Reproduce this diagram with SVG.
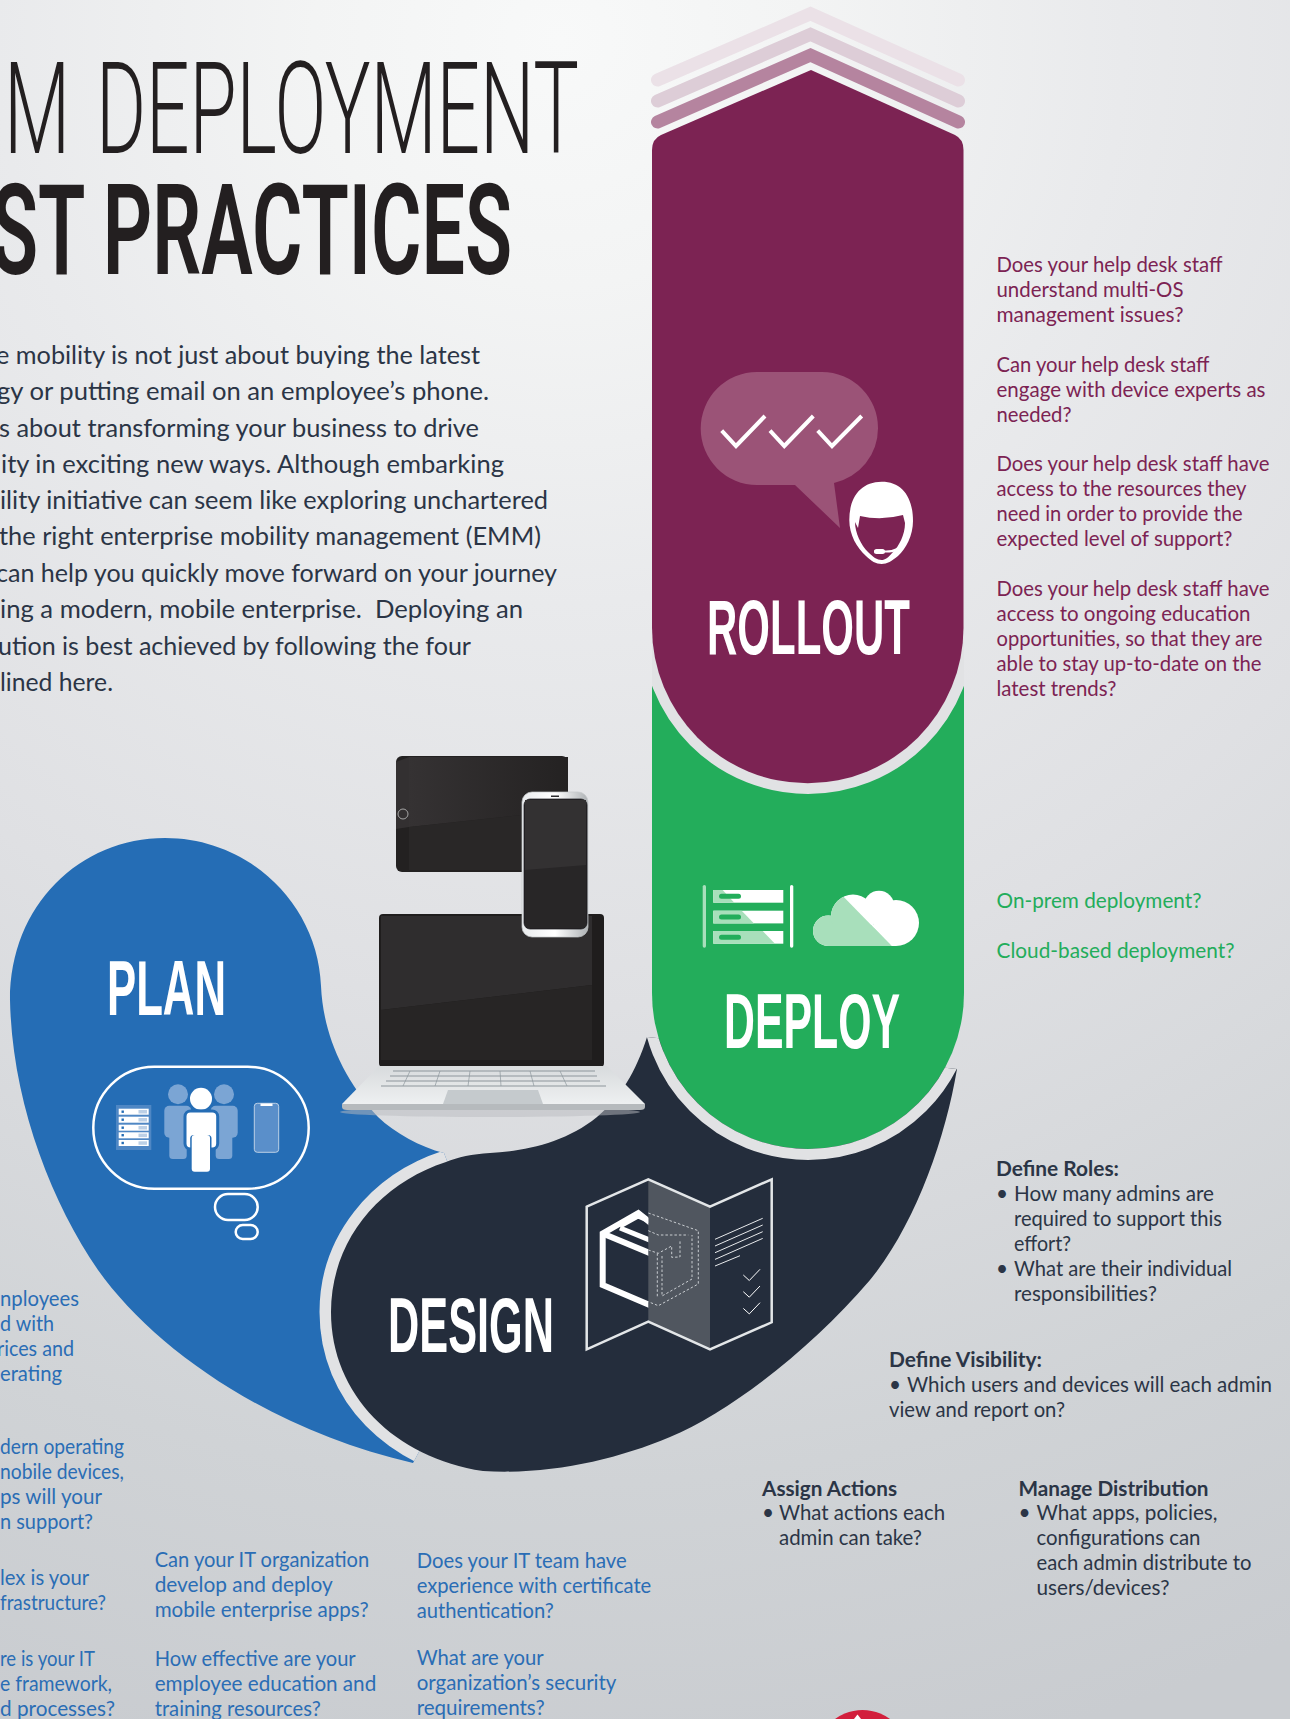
<svg xmlns="http://www.w3.org/2000/svg" width="1290" height="1719" viewBox="0 0 1290 1719">
<style>
text{font-family:Lato,"Noto Sans",sans-serif;font-size:20.8px}
.h{font-family:"Liberation Sans",Arial,sans-serif;font-weight:700;fill:#fff;font-size:78px}
.body{fill:#2b3546;font-size:25px}
.m{fill:#7c2353}.g{fill:#23ad5b}.b{fill:#2a6db5}.d{fill:#2b3546}.bo{font-weight:700}
.halo{fill:none;stroke:#e1e2e4}
.w{fill:none;stroke:#fff}
.thin{fill:none;stroke:#e8eaec;stroke-width:1}
.dash{fill:none;stroke:#c9cdd1;stroke-width:1;stroke-dasharray:2.5 2}
.chev{fill:none;stroke-width:13;stroke-linecap:round;stroke-linejoin:miter}
.key{fill:none;stroke:#8d969c;stroke-width:1.2}
</style>
<defs>
<radialGradient id="bg" gradientUnits="userSpaceOnUse" cx="560" cy="40" r="1760">
<stop offset="0" stop-color="#f8f9f9"/><stop offset=".14" stop-color="#f3f4f4"/><stop offset=".32" stop-color="#e9eaec"/><stop offset=".55" stop-color="#dfe0e3"/><stop offset=".82" stop-color="#d0d3d6"/><stop offset="1" stop-color="#c9ccd0"/>
</radialGradient>
<linearGradient id="silver" x1="0" x2="1" y1="0" y2="0"><stop offset="0" stop-color="#e9ebed"/><stop offset=".5" stop-color="#ffffff"/><stop offset="1" stop-color="#aeb2b5"/></linearGradient>
<linearGradient id="deck" x1="0" x2="0" y1="0" y2="1"><stop offset="0" stop-color="#d8dbdd"/><stop offset="1" stop-color="#eef0f1"/></linearGradient>
<linearGradient id="tabTop" x1="0" x2="1" y1="0" y2="0"><stop offset="0" stop-color="#353233"/><stop offset="1" stop-color="#242222"/></linearGradient>
<path id="navyShape" d="M647,1037 C636,1072 620,1098 597,1117 C565,1143 525,1151 490,1153 C472,1154 458,1157 446,1162 C378,1184 331,1242 331,1312 C331,1395 395,1458 483,1471 C550,1475 615,1460 670,1437 C730,1412 810,1350 870,1280 C915,1225 945,1140 957,1069 Z"/>
<path id="blueShape" d="M321,986 C323,1030 340,1075 378,1117 C395,1133 420,1147 444,1153 L500,1300 L413,1463 C270,1430 155,1350 98,1270 C50,1200 12,1100 10,1000 C10,905 80,838 165,838 C250,838 318,905 321,986 Z"/>
<clipPath id="inBlue"><use href="#blueShape"/></clipPath>
<clipPath id="inNavy"><use href="#navyShape"/></clipPath>
<clipPath id="inColumn"><rect x="652" y="500" width="312" height="700"/></clipPath>
<clipPath id="leftOfPanel"><rect x="590" y="1170" width="58.3" height="190"/></clipPath>
<clipPath id="paleCloud"><polygon points="800,880 834,887 891.7,946 891.7,960 800,960"/></clipPath>
<g id="cloud"><circle cx="828.3" cy="930.7" r="15.3"/><circle cx="853" cy="916.5" r="22"/><circle cx="879" cy="906" r="15.2"/><circle cx="896" cy="923" r="23"/><rect x="828" y="925" width="68" height="21"/></g>
</defs>
<rect id="background" width="1290" height="1719" fill="url(#bg)"/>

<g id="title">
<text x="4" y="153" style="font-family:Roboto,'Liberation Sans',sans-serif;font-weight:300;font-size:128px;word-spacing:12px" fill="#231f20" textLength="575" lengthAdjust="spacingAndGlyphs">M DEPLOYMENT</text>
<text x="-9" y="274" style="font-family:Roboto,'Liberation Sans',sans-serif;font-weight:600;font-size:127px" fill="#231f20" textLength="521" lengthAdjust="spacingAndGlyphs">ST PRACTICES</text>
</g>

<g id="intro">
<text class="body" x="-4" y="364" textLength="484" lengthAdjust="spacingAndGlyphs">e mobility is not just about buying the latest</text>
<text class="body" x="-3" y="400" textLength="492" lengthAdjust="spacingAndGlyphs">gy or putting email on an employee’s phone.</text>
<text class="body" x="-1" y="437" textLength="480" lengthAdjust="spacingAndGlyphs">s about transforming your business to drive</text>
<text class="body" x="1" y="473" textLength="503" lengthAdjust="spacingAndGlyphs">ity in exciting new ways. Although embarking</text>
<text class="body" x="0" y="509" textLength="548" lengthAdjust="spacingAndGlyphs">ility initiative can seem like exploring unchartered</text>
<text class="body" x="-1" y="545" textLength="542" lengthAdjust="spacingAndGlyphs">the right enterprise mobility management (EMM)</text>
<text class="body" x="-4" y="582" textLength="561" lengthAdjust="spacingAndGlyphs">can help you quickly move forward on your journey</text>
<text class="body" x="0" y="618" textLength="523" lengthAdjust="spacingAndGlyphs">ing a modern, mobile enterprise.&#160; Deploying an</text>
<text class="body" x="-2" y="655" textLength="473" lengthAdjust="spacingAndGlyphs">ution is best achieved by following the four</text>
<text class="body" x="0" y="691" textLength="113" lengthAdjust="spacingAndGlyphs">lined here.</text>
</g>

<g id="plan">
<use href="#blueShape" fill="#256db5"/>
<g clip-path="url(#inBlue)"><use href="#navyShape" class="halo" stroke-width="23"/></g>
<text class="h" x="107" y="1015" textLength="119" lengthAdjust="spacingAndGlyphs">PLAN</text>
<rect class="w" x="93.3" y="1066.7" width="215.4" height="122" rx="61" stroke-width="2.5"/>
<rect class="w" x="215" y="1194" width="42.7" height="26" rx="13" stroke-width="2.5"/>
<rect class="w" x="235.7" y="1225" width="22" height="14" rx="7" stroke-width="2.5"/>
<rect x="116" y="1105" width="35.3" height="45" fill="#4f87c4"/>
<g fill="#fff"><rect x="118.7" y="1108.7" width="30" height="6"/><rect x="118.7" y="1116.7" width="30" height="6"/><rect x="118.7" y="1124.7" width="30" height="6"/><rect x="118.7" y="1132.3" width="30" height="6"/><rect x="118.7" y="1140" width="30" height="6"/></g>
<g fill="#bcd0e6"><rect x="138.5" y="1110" width="8.5" height="3.5"/><rect x="138.5" y="1118" width="8.5" height="3.5"/><rect x="138.5" y="1126" width="8.5" height="3.5"/><rect x="138.5" y="1133.6" width="8.5" height="3.5"/><rect x="138.5" y="1141.3" width="8.5" height="3.5"/></g>
<g fill="#256db5"><rect x="121.5" y="1110.5" width="2.4" height="2.4"/><rect x="121.5" y="1118.5" width="2.4" height="2.4"/><rect x="121.5" y="1126.5" width="2.4" height="2.4"/><rect x="121.5" y="1134" width="2.4" height="2.4"/><rect x="121.5" y="1141.8" width="2.4" height="2.4"/></g>
<g fill="#7ba5d4">
<circle cx="178" cy="1094.3" r="10"/><circle cx="224" cy="1094.3" r="10"/>
<rect x="164.3" y="1105.7" width="27" height="32" rx="5"/><rect x="169.3" y="1125" width="17.4" height="34" rx="3.5"/>
<rect x="210.7" y="1105.7" width="27" height="32" rx="5"/><rect x="215.7" y="1125" width="16.6" height="34" rx="3.5"/>
</g>
<circle cx="201" cy="1098.7" r="11" fill="#fff"/>
<rect x="185" y="1111" width="32.7" height="38" rx="5.5" fill="#fff" stroke="#256db5" stroke-width="3"/>
<rect x="190.2" y="1135" width="21.3" height="38.2" rx="3.5" fill="#256db5"/>
<rect x="191.7" y="1135" width="18.3" height="36.7" rx="3" fill="#fff"/>
<rect x="254.3" y="1103.3" width="24.4" height="49" rx="3" fill="#5a8fca" stroke="#bcd0e6" stroke-width="1"/>
<rect x="260.5" y="1103.5" width="12" height="2.5" fill="#fff"/>
</g>

<g id="design">
<use href="#navyShape" fill="#242d3c"/>
<text class="h" x="388" y="1352" textLength="166" lengthAdjust="spacingAndGlyphs">DESIGN</text>
<polygon points="648.3,1179.3 710,1206.7 710,1349.3 648.3,1321.7" fill="#50565f"/>
<polygon points="586.7,1206.7 648.3,1179.3 710,1206.7 771.7,1179.3 771.7,1322.3 710,1349.3 648.3,1321.7 586.7,1349.3" fill="none" stroke="#e3e6e8" stroke-width="2.5"/>
<g clip-path="url(#leftOfPanel)" class="w" stroke-width="6">
<path d="M652,1224 L638.3,1213 L602.7,1233.5 V1285 L652,1306"/>
<path d="M602.7,1233.5 L652,1254"/>
<path d="M620,1228 L652,1241" stroke-width="5"/>
<path d="M620,1226 L638,1216 L652,1222" stroke-width="5"/>
</g>
<path class="dash" d="M648.3,1213 L698.3,1230.7 V1284 L658.3,1305.7 L648.3,1301.7"/>
<path class="dash" d="M648.3,1230.7 L658.3,1235 L688.3,1235"/>
<path class="dash" d="M648.3,1250 L658.3,1253.3 L671.7,1246 V1257.3 L680,1257 V1240"/>
<path class="dash" d="M657.3,1253.3 V1298"/>
<path class="dash" d="M662,1256 V1296 L692,1279 V1235"/>
<g class="thin">
<path d="M715,1239.3 L762.7,1218.3"/><path d="M715,1246 L762.7,1225"/><path d="M715,1252.7 L762.7,1231.7"/><path d="M715,1259.4 L762.7,1238.4"/><path d="M715,1266 L740,1255.7"/>
<path d="M743.3,1275 L749.3,1280.5 L760,1269.3" stroke="#fff"/><path d="M743.3,1291.7 L749.3,1297.2 L760,1286" stroke="#fff"/><path d="M743.3,1308.4 L749.3,1313.9 L760,1302.7" stroke="#fff"/>
</g>
</g>

<g id="deploy">
<path d="M652,650 H964 V993 A156,156 0 0 1 652,993 Z" fill="#23ad5b"/>
<g clip-path="url(#inNavy)"><circle cx="808" cy="993" r="161.5" class="halo" stroke-width="11"/></g>
<text class="h" x="724" y="1048" textLength="176" lengthAdjust="spacingAndGlyphs">DEPLOY</text>
<rect x="702.7" y="885" width="3.3" height="62.7" rx="1.6" fill="#a8dfbb"/>
<rect x="790" y="885" width="3.3" height="62.7" rx="1.6" fill="#fff"/>
<g fill="#fff"><rect x="713.3" y="890" width="70" height="12.7"/><rect x="713.3" y="910.7" width="70" height="12.7"/><rect x="713.3" y="931" width="70" height="12.7"/></g>
<g fill="#a8dfbb"><polygon points="713.3,890 722.7,890 734.3,902.7 713.3,902.7"/><polygon points="713.3,910.7 741.7,910.7 754,923.4 713.3,923.4"/><polygon points="713.3,931 762.7,931 775,943.7 713.3,943.7"/></g>
<g fill="#23ad5b"><rect x="719" y="893.8" width="22" height="5" rx="2.5"/><rect x="719" y="914.5" width="22" height="5" rx="2.5"/><rect x="719" y="934.8" width="22" height="5" rx="2.5"/></g>
<use href="#cloud" fill="#fff"/>
<g clip-path="url(#paleCloud)"><use href="#cloud" fill="#a8dfbb"/></g>
</g>

<g id="rollout">
<path class="halo" clip-path="url(#inColumn)" d="M652,627.5 A156,156 0 0 0 964,627.5" stroke-width="21"/>
<path d="M811,70 L955,135 Q963.5,139 963.5,150 V627.5 A155.75,155.75 0 0 1 652,627.5 V150 Q652,139 661,135 Z" fill="#7c2353"/>
<g class="chev">
<polyline points="657.5,80 810.5,13.7 958.5,80" stroke="#ebe1e7"/>
<polyline points="657.5,101 810.5,34.3 958.5,101" stroke="#ddcdd7"/>
<polyline points="657.5,122 810.5,55 958.5,122" stroke="#b5849f"/>
</g>
<path d="M757,372 H822 A56,56 0 0 1 878,428 A56,56 0 0 1 834,483 L840,528 L795,485 H757 A56.5,56.5 0 0 1 700.7,428.5 A56.5,56.5 0 0 1 757,372 Z" fill="#9b5377"/>
<g class="w" stroke-width="4">
<polyline points="721.7,430.7 736,446 765,416"/><polyline points="770,430.7 784.3,446 813.3,416"/><polyline points="817.7,430.7 832,446 861.7,416"/>
</g>
<path d="M881.7,481.7 C902,481.7 913,497 913,521 C913,535 906,549 898,556 C892,561 887,564 881.7,564 C876,564 871,561 866,556 C857,548 849.3,535 849.3,520 C849.3,497 861,481.7 881.7,481.7 Z" fill="#fff"/>
<path d="M860,516 Q881,521 903,515 L905,523 C905,535 899,546 893,552 C888,558 885,560 881.7,560 C877,560 873,557 868,552 C861,545 855,533 855,522 L858,528 Z" fill="#7c2353"/>
<path d="M874,551.5 H885 Q900,552 905,540" fill="none" stroke="#fff" stroke-width="2"/>
<rect x="874" y="549" width="11" height="5" rx="2.5" fill="#fff"/>
<text class="h" x="707" y="654" textLength="203" lengthAdjust="spacingAndGlyphs">ROLLOUT</text>
</g>

<g id="devices">
<ellipse cx="490" cy="1112" rx="150" ry="5" fill="#b9bcbf" opacity=".5"/>
<rect x="396" y="756" width="172" height="116" rx="6" fill="#232121"/>
<polygon points="409,757 568,757 568,810 409,827" fill="url(#tabTop)"/>
<polygon points="396,762 409,757 409,827 396,829" fill="#333031"/>
<polygon points="409,827 568,810 568,870 409,870" fill="#292727"/>
<circle cx="403" cy="814" r="5" fill="none" stroke="#a5a5a5"/>
<rect x="379" y="914" width="225" height="153" rx="4" fill="#1f1d1d"/>
<polygon points="381,916 592,916 592,985 381,1010" fill="#2f2d2e"/>
<polygon points="381,1010 592,985 592,1060 381,1060" fill="#272525"/>
<rect x="522" y="792" width="66" height="145" rx="10" fill="url(#silver)" stroke="#c6c8ca" stroke-width=".7"/>
<rect x="524" y="799" width="63" height="130" rx="6" fill="#282627" stroke="#15161a" stroke-width=".7"/>
<polygon points="525,800 586,800 586,865 525,870" fill="#333132"/>
<rect x="551" y="795.5" width="8" height="1.5" fill="#2b2b2e"/>
<polygon points="379,1066 607,1066 645,1104 342,1104" fill="url(#deck)"/>
<path d="M342,1104 H645 V1107 Q645,1110 640,1110 H347 Q342,1110 342,1107 Z" fill="#b6babd"/>
<g class="key">
<path d="M393,1071 H595"/><path d="M390,1076 H597"/><path d="M386,1081 H600"/><path d="M381,1086 H606"/>
<path d="M410,1071 L403,1086 M440,1071 L435,1086 M470,1071 L468,1086 M500,1071 L501,1086 M530,1071 L534,1086 M560,1071 L567,1086" stroke-width=".7"/>
</g>
<polygon points="448,1090 538,1090 543,1104 443,1104" fill="#c5cacd"/>
</g>

<g id="rollout-questions">
<text class="m" x="996.5" y="272" textLength="226" lengthAdjust="spacingAndGlyphs">Does your help desk staff</text>
<text class="m" x="996.5" y="297" textLength="187" lengthAdjust="spacingAndGlyphs">understand multi-OS</text>
<text class="m" x="996.5" y="322" textLength="187" lengthAdjust="spacingAndGlyphs">management issues?</text>
<text class="m" x="996.5" y="372" textLength="213" lengthAdjust="spacingAndGlyphs">Can your help desk staff</text>
<text class="m" x="996.5" y="397" textLength="269" lengthAdjust="spacingAndGlyphs">engage with device experts as</text>
<text class="m" x="996.5" y="422" textLength="75" lengthAdjust="spacingAndGlyphs">needed?</text>
<text class="m" x="996.5" y="471" textLength="273" lengthAdjust="spacingAndGlyphs">Does your help desk staff have</text>
<text class="m" x="996.5" y="496" textLength="250" lengthAdjust="spacingAndGlyphs">access to the resources they</text>
<text class="m" x="996.5" y="521" textLength="246" lengthAdjust="spacingAndGlyphs">need in order to provide the</text>
<text class="m" x="996.5" y="546" textLength="236" lengthAdjust="spacingAndGlyphs">expected level of support?</text>
<text class="m" x="996.5" y="596" textLength="273" lengthAdjust="spacingAndGlyphs">Does your help desk staff have</text>
<text class="m" x="996.5" y="621" textLength="254" lengthAdjust="spacingAndGlyphs">access to ongoing education</text>
<text class="m" x="996.5" y="646" textLength="266" lengthAdjust="spacingAndGlyphs">opportunities, so that they are</text>
<text class="m" x="996.5" y="671" textLength="265" lengthAdjust="spacingAndGlyphs">able to stay up-to-date on the</text>
<text class="m" x="996.5" y="696" textLength="120" lengthAdjust="spacingAndGlyphs">latest trends?</text>
</g>

<g id="deploy-questions">
<text class="g" x="996.5" y="908" textLength="205" lengthAdjust="spacingAndGlyphs">On-prem deployment?</text>
<text class="g" x="996.5" y="958" textLength="238" lengthAdjust="spacingAndGlyphs">Cloud-based deployment?</text>
</g>

<g id="design-questions">
<text class="d bo" x="996" y="1176" textLength="123" lengthAdjust="spacingAndGlyphs">Define Roles:</text>
<text class="d" x="996" y="1201">•</text>
<text class="d" x="1014" y="1201" textLength="200" lengthAdjust="spacingAndGlyphs">How many admins are</text>
<text class="d" x="1014" y="1226" textLength="208" lengthAdjust="spacingAndGlyphs">required to support this</text>
<text class="d" x="1014" y="1251" textLength="57" lengthAdjust="spacingAndGlyphs">effort?</text>
<text class="d" x="996" y="1276">•</text>
<text class="d" x="1014" y="1276" textLength="218" lengthAdjust="spacingAndGlyphs">What are their individual</text>
<text class="d" x="1014" y="1301" textLength="143" lengthAdjust="spacingAndGlyphs">responsibilities?</text>
<text class="d bo" x="889" y="1367" textLength="153" lengthAdjust="spacingAndGlyphs">Define Visibility:</text>
<text class="d" x="889" y="1392">•</text>
<text class="d" x="907" y="1392" textLength="365" lengthAdjust="spacingAndGlyphs">Which users and devices will each admin</text>
<text class="d" x="889" y="1417" textLength="176" lengthAdjust="spacingAndGlyphs">view and report on?</text>
<text class="d bo" x="762" y="1496" textLength="135" lengthAdjust="spacingAndGlyphs">Assign Actions</text>
<text class="d" x="762" y="1520">•</text>
<text class="d" x="779" y="1520" textLength="166" lengthAdjust="spacingAndGlyphs">What actions each</text>
<text class="d" x="779" y="1545" textLength="143" lengthAdjust="spacingAndGlyphs">admin can take?</text>
<text class="d bo" x="1018.5" y="1496" textLength="190" lengthAdjust="spacingAndGlyphs">Manage Distribution</text>
<text class="d" x="1018.5" y="1520">•</text>
<text class="d" x="1036.5" y="1520" textLength="181" lengthAdjust="spacingAndGlyphs">What apps, policies,</text>
<text class="d" x="1036.5" y="1545" textLength="164" lengthAdjust="spacingAndGlyphs">configurations can</text>
<text class="d" x="1036.5" y="1570" textLength="215" lengthAdjust="spacingAndGlyphs">each admin distribute to</text>
<text class="d" x="1036.5" y="1595" textLength="133" lengthAdjust="spacingAndGlyphs">users/devices?</text>
</g>

<g id="plan-questions">
<text class="b" x="0" y="1306" textLength="79" lengthAdjust="spacingAndGlyphs">nployees</text>
<text class="b" x="0" y="1331" textLength="54" lengthAdjust="spacingAndGlyphs">d with</text>
<text class="b" x="-3" y="1356" textLength="77" lengthAdjust="spacingAndGlyphs">rices and</text>
<text class="b" x="0" y="1381" textLength="62" lengthAdjust="spacingAndGlyphs">erating</text>
<text class="b" x="0" y="1454" textLength="124" lengthAdjust="spacingAndGlyphs">dern operating</text>
<text class="b" x="0" y="1479" textLength="124" lengthAdjust="spacingAndGlyphs">nobile devices,</text>
<text class="b" x="0" y="1504" textLength="102" lengthAdjust="spacingAndGlyphs">ps will your</text>
<text class="b" x="0" y="1529" textLength="93" lengthAdjust="spacingAndGlyphs">n support?</text>
<text class="b" x="0" y="1585" textLength="89" lengthAdjust="spacingAndGlyphs">lex is your</text>
<text class="b" x="0" y="1610" textLength="106" lengthAdjust="spacingAndGlyphs">frastructure?</text>
<text class="b" x="0" y="1666" textLength="95" lengthAdjust="spacingAndGlyphs">re is your IT</text>
<text class="b" x="0" y="1691" textLength="112" lengthAdjust="spacingAndGlyphs">e framework,</text>
<text class="b" x="0" y="1716" textLength="115" lengthAdjust="spacingAndGlyphs">d processes?</text>
<text class="b" x="154.7" y="1567" textLength="214.5" lengthAdjust="spacingAndGlyphs">Can your IT organization</text>
<text class="b" x="154.7" y="1592" textLength="178" lengthAdjust="spacingAndGlyphs">develop and deploy</text>
<text class="b" x="154.7" y="1617" textLength="214" lengthAdjust="spacingAndGlyphs">mobile enterprise apps?</text>
<text class="b" x="154.7" y="1666" textLength="201" lengthAdjust="spacingAndGlyphs">How effective are your</text>
<text class="b" x="154.7" y="1691" textLength="221.5" lengthAdjust="spacingAndGlyphs">employee education and</text>
<text class="b" x="154.7" y="1716" textLength="166" lengthAdjust="spacingAndGlyphs">training resources?</text>
<text class="b" x="416.7" y="1568" textLength="210" lengthAdjust="spacingAndGlyphs">Does your IT team have</text>
<text class="b" x="416.7" y="1593" textLength="234.6" lengthAdjust="spacingAndGlyphs">experience with certificate</text>
<text class="b" x="416.7" y="1618" textLength="137" lengthAdjust="spacingAndGlyphs">authentication?</text>
<text class="b" x="416.7" y="1665" textLength="127" lengthAdjust="spacingAndGlyphs">What are your</text>
<text class="b" x="416.7" y="1690" textLength="199.7" lengthAdjust="spacingAndGlyphs">organization’s security</text>
<text class="b" x="416.7" y="1715" textLength="128" lengthAdjust="spacingAndGlyphs">requirements?</text>
</g>

<g id="badge">
<circle cx="862.5" cy="1756.5" r="46.5" fill="#d21f3c"/>
<polygon points="854,1719 857.5,1714.5 861,1719" fill="#fff"/>
</g>
</svg>
